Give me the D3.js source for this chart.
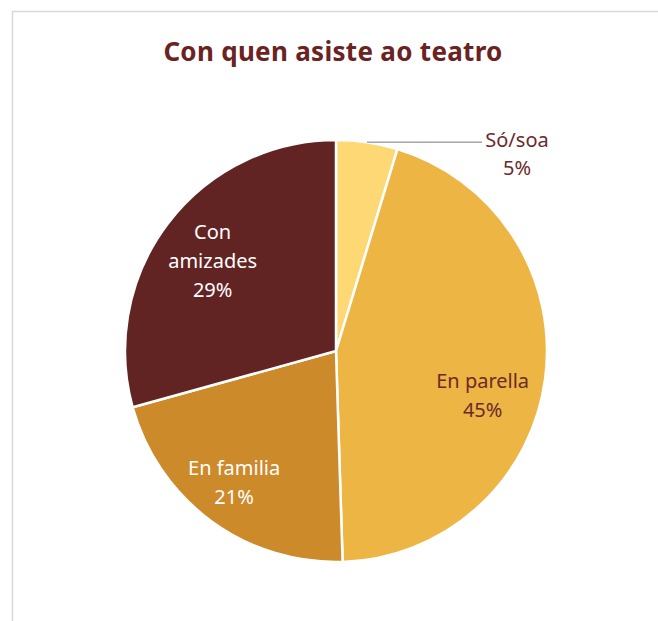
<!DOCTYPE html>
<html>
<head>
<meta charset="utf-8">
<script src="https://cdn.jsdelivr.net/npm/d3@7"></script>
<style>
  html, body { margin: 0; padding: 0; background: #fff; }
  svg { display: block; }
</style>
</head>
<body>
<svg id="chart" width="658" height="621"></svg>
<script>
// Data
const categories = ["Só/soa", "En parella", "En familia", "Con amizades"];
const values = [4.7, 44.8, 21.2, 29.3];
const percentLabels = ["5%", "45%", "21%", "29%"];
const sliceColors = ["#fdd874", "#edb544", "#cd8a2b", "#622323"];
const labelColors = ["#6b2a2a", "#6b2a2a", "#ffffff", "#ffffff"];

const titleText = "Con quen asiste ao teatro";

const svg = d3.select("#chart");
const width = 658, height = 621;
const cx = 336, cy = 351, radius = 211;
const font = "'Noto Sans', 'Open Sans', sans-serif";

// chart frame (runs past the right and bottom edge of the picture)
svg.append("rect")
    .attr("x", 12.5).attr("y", 11.5)
    .attr("width", 700).attr("height", 700)
    .attr("fill", "#fff")
    .attr("stroke", "#d9d9d9")
    .attr("stroke-width", 1.5);

svg.append("text")
    .attr("x", 333).attr("y", 61)
    .attr("text-anchor", "middle")
    .attr("font-family", font)
    .attr("font-weight", "bold")
    .attr("font-size", 26)
    .attr("letter-spacing", 0.3)
    .attr("fill", "#6a2222")
    .text(titleText);

const data = categories.map((c, i) => ({ name: c, value: values[i], pct: percentLabels[i], i: i }));

const pie = d3.pie()
    .value(d => d.value)
    .sort(null);

const arcs = pie(data);

const arc = d3.arc().innerRadius(0).outerRadius(radius);
const labelArc = d3.arc().innerRadius(155).outerRadius(155);
const edgeArc = d3.arc().innerRadius(radius).outerRadius(radius);

const g = svg.append("g").attr("transform", `translate(${cx},${cy})`);

g.selectAll("path.slice")
    .data(arcs)
    .enter().append("path")
    .attr("class", "slice")
    .attr("d", arc)
    .attr("fill", d => sliceColors[d.data.i])
    .attr("stroke", "#fff")
    .attr("stroke-width", 2.5)
    .attr("stroke-linejoin", "round");

// small nudges so the inside labels sit where the original put them
const nudge = { 1: [-7, 24], 2: [-10, 7], 3: [0, 4] };
const lineH = 29;

arcs.forEach(d => {
    const i = d.data.i;
    let lines = d.data.name.split(" ");
    if (i !== 3) lines = [d.data.name];
    lines.push(d.data.pct);

    let x, y;
    if (i === 0) {
        // outside label with a leader line
        const p = edgeArc.centroid(d);
        const lx = 482 - cx;
        g.append("line")
            .attr("x1", p[0]).attr("y1", p[1])
            .attr("x2", lx).attr("y2", p[1])
            .attr("stroke", "#a6a6a6")
            .attr("stroke-width", 1.5);
        x = 517 - cx;
        y = p[1] + 17;
    } else {
        const c = labelArc.centroid(d);
        const n = nudge[i] || [0, 0];
        x = c[0] + n[0];
        y = c[1] + n[1] - (lines.length - 1) * lineH / 2 + 7;
    }

    const t = g.append("text")
        .attr("text-anchor", "middle")
        .attr("font-family", font)
        .attr("font-size", 20)
        .attr("fill", labelColors[i]);

    lines.forEach((ln, k) => {
        t.append("tspan")
            .attr("x", x)
            .attr("y", i === 0 ? y - 12 + k * 28 : y + k * lineH)
            .text(ln);
    });
});
</script>
</body>
</html>
